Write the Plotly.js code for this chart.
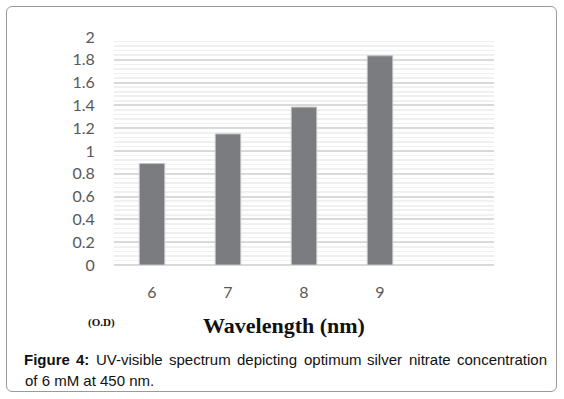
<!DOCTYPE html>
<html>
<head>
<meta charset="utf-8">
<script src="https://cdn.plot.ly/plotly-3.0.1.min.js"></script>
<style>
  html, body { margin: 0; padding: 0; background: #fff; }
  #wrap { position: relative; width: 564px; height: 399px; }
  #chart { position: absolute; left: 0; top: 0; width: 564px; height: 399px; }
  #frame { position: absolute; left: 6px; top: 6px; width: 551px; height: 386px;
           border: 1px solid #9a9a9a; border-radius: 6px; pointer-events: none; box-sizing: border-box; }
</style>
</head>
<body>
<div id="wrap">
  <div id="chart"></div>
  <div id="frame"></div>
</div>
<script>
const wavelengths = [6, 7, 8, 9];
const odValues = [0.89, 1.15, 1.385, 1.835];
const yTicks = [0, 0.2, 0.4, 0.6, 0.8, 1, 1.2, 1.4, 1.6, 1.8, 2];
const yTickLabels = ["0", "0.2", "0.4", "0.6", "0.8", "1", "1.2", "1.4", "1.6", "1.8", "2"];
const xTickLabels = ["6", "7", "8", "9"];
const captionWords = ["Figure", "4:", "UV-visible", "spectrum", "depicting", "optimum", "silver", "nitrate", "concentration"];
const captionBold = [true, true, false, false, false, false, false, false, false];
const captionLine2 = "of 6 mM at 450 nm.";

const W = 564, H = 399;
const L = 114, R = 494, T = 37, B = 265;
const px2x = p => (p - L) / (R - L);
const px2y = p => (B - p) / (B - T);

const trace = {
  type: 'bar',
  x: wavelengths,
  y: odValues,
  width: 0.335,
  marker: { color: '#7b7c80', line: { color: '#c4c4c4', width: 1 } },
  hoverinfo: 'x+y'
};

const capFamily = '"Liberation Sans", Arial, sans-serif';
const capSize = 15;
const annotations = [
  { xref: 'paper', yref: 'paper', x: px2x(101), y: px2y(322),
    text: '<b>(O.D)</b>', showarrow: false, xanchor: 'center', yanchor: 'middle',
    font: { family: '"Liberation Serif", "Times New Roman", serif', size: 11, color: '#111' } },
  { xref: 'paper', yref: 'paper', x: px2x(284), y: px2y(325),
    text: '<b>Wavelength (nm)</b>', showarrow: false, xanchor: 'center', yanchor: 'middle',
    font: { family: '"Liberation Serif", "Times New Roman", serif', size: 22, color: '#111' } },
  { xref: 'paper', yref: 'paper', x: px2x(23), y: px2y(380),
    text: captionLine2, showarrow: false, xanchor: 'left', yanchor: 'middle',
    font: { family: capFamily, size: capSize, color: '#111' } }
];

// justified first caption line (layout only: measure words, spread gaps)
const cv = document.createElement('canvas').getContext('2d');
const widths = captionWords.map((w, i) => {
  cv.font = (captionBold[i] ? 'bold ' : '') + capSize + 'px "Liberation Sans", Arial, sans-serif';
  return cv.measureText(w).width;
});
const lineStart = 23, lineEnd = 546;
const totalW = widths.reduce((a, b) => a + b, 0);
const gap = (lineEnd - lineStart - totalW) / (captionWords.length - 1);
let cx = lineStart;
captionWords.forEach((w, i) => {
  annotations.push({
    xref: 'paper', yref: 'paper', x: px2x(cx), y: px2y(359),
    text: captionBold[i] ? '<b>' + w + '</b>' : w,
    showarrow: false, xanchor: 'left', yanchor: 'middle', borderpad: 0,
    font: { family: capFamily, size: capSize, color: '#111' }
  });
  cx += widths[i] + gap;
});

const layout = {
  width: W, height: H,
  margin: { l: L, r: W - R, t: T, b: H - B, pad: 0 },
  paper_bgcolor: '#ffffff',
  plot_bgcolor: '#ffffff',
  showlegend: false,
  font: { family: 'Lato, "Open Sans", sans-serif', color: '#595959', size: 16 },
  xaxis: {
    range: [5.5, 10.5],
    tickvals: wavelengths,
    ticktext: xTickLabels,
    ticks: 'outside', ticklen: 13, tickcolor: 'rgba(0,0,0,0)',
    showgrid: false, zeroline: false, showline: false,
    tickfont: { family: 'Lato, "Open Sans", sans-serif', size: 16, color: '#595959' },
    fixedrange: true
  },
  yaxis: {
    range: [0, 2],
    tickvals: yTicks,
    ticktext: yTickLabels,
    ticks: 'outside', ticklen: 15, tickcolor: 'rgba(0,0,0,0)',
    showgrid: true, gridcolor: '#d9d9d9', gridwidth: 2,
    zeroline: true, zerolinecolor: '#d9d9d9', zerolinewidth: 2,
    showline: false,
    minor: { dtick: 0.04, showgrid: true, gridcolor: '#f0f0f0', gridwidth: 1.6 },
    tickfont: { family: 'Lato, "Open Sans", sans-serif', size: 16, color: '#595959' },
    fixedrange: true
  },
  annotations: annotations
};

Plotly.newPlot('chart', [trace], layout, { displayModeBar: false, staticPlot: true });
</script>
</body>
</html>
